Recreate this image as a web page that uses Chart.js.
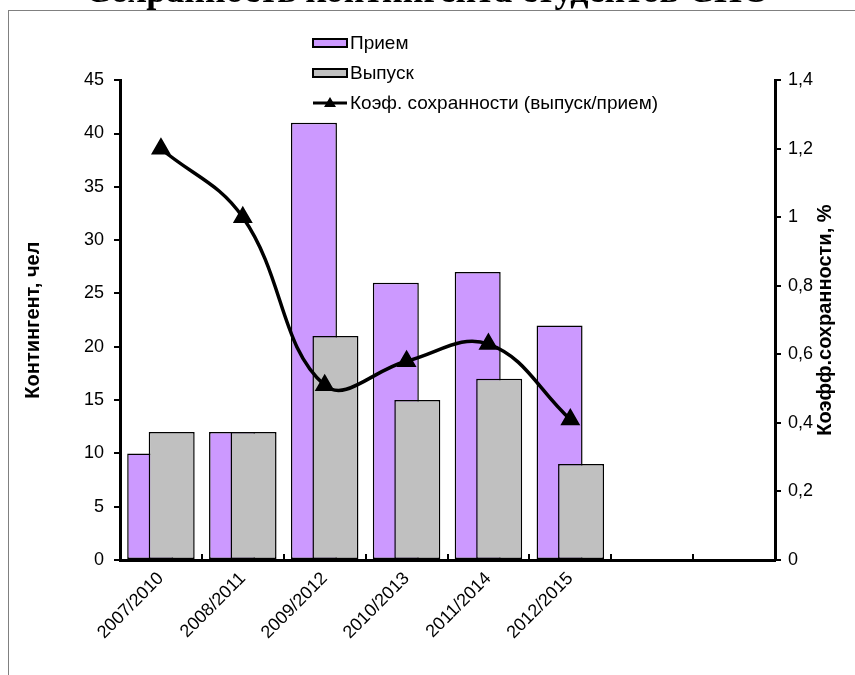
<!DOCTYPE html>
<html lang="ru">
<head>
<meta charset="utf-8">
<title>Сохранность контингента студентов СПО</title>
<script src="https://cdn.jsdelivr.net/npm/chart.js@4/dist/chart.umd.min.js"></script>
<style>
  html, body { margin: 0; padding: 0; background: #fff; }
  #page { position: relative; width: 855px; height: 675px; overflow: hidden; }
  #frame { position: absolute; left: 8px; top: 10px; width: 900px; height: 700px;
           border-top: 1px solid #808080; border-left: 1px solid #808080; }
  #wrap { position: absolute; left: 0; top: -29px; width: 855px; height: 704px; }
</style>
</head>
<body>
<div id="page">
  <div id="frame"></div>
  <div id="wrap"><canvas id="chart"></canvas></div>
</div>
<script>
const getEl = (id) => document.getElementById(id);

// данные с графика
const years = ['2007/2010', '2008/2011', '2009/2012', '2010/2013', '2011/2014', '2012/2015', '', ''];
const priem = [10, 12, 41, 26, 27, 22];
const vypusk = [12, 12, 21, 15, 17, 9];
const koef = [1.2, 1.0, 0.51, 0.58, 0.63, 0.41];
const leftTicks = { min: 0, max: 45, step: 5 };
const rightTicks = { min: 0, max: 1.4, step: 0.2 };

const chartTitle = 'Сохранность контингента студентов СПО';
const leftTitle = 'Контингент, чел';
const rightTitle = 'Коэфф.сохранности, %';

const FONT = "'Liberation Sans', Arial, sans-serif";
Chart.defaults.font.family = FONT;
Chart.defaults.color = '#000';

const fmtComma = (v) => String(Number(v.toFixed(1))).replace('.', ',');

// серые столбцы "Выпуск" должны лежать поверх сиреневых "Прием"
const barOrder = {
    id: 'barOrder',
    beforeDatasetDraw(chart, args) {
        if (args.index === 0) return false;
        if (args.index === 1) chart.getDatasetMeta(0).controller.draw();
    }
};

// легенда столбиком, как в Excel
const legendColumn = {
    id: 'legendColumn',
    afterDraw(chart) {
        const ctx = chart.ctx;
        const x = 313, w = 34;
        ctx.save();
        chart.data.datasets.forEach((ds, i) => {
            const y = 72 + i * 30;
            if (ds.type === 'line') {
                ctx.strokeStyle = ds.borderColor;
                ctx.lineWidth = 3;
                ctx.beginPath();
                ctx.moveTo(x, y);
                ctx.lineTo(x + w, y);
                ctx.stroke();
                ctx.fillStyle = ds.pointBackgroundColor;
                ctx.beginPath();
                ctx.moveTo(x + w / 2, y - 6);
                ctx.lineTo(x + w / 2 + 6, y + 4);
                ctx.lineTo(x + w / 2 - 6, y + 4);
                ctx.closePath();
                ctx.fill();
            } else {
                ctx.fillStyle = ds.backgroundColor;
                ctx.strokeStyle = '#000';
                ctx.lineWidth = 2;
                ctx.fillRect(x, y - 4, w, 8);
                ctx.strokeRect(x, y - 4, w, 8);
            }
            ctx.fillStyle = '#000';
            ctx.font = '19px ' + FONT;
            ctx.textBaseline = 'middle';
            ctx.textAlign = 'left';
            ctx.fillText(ds.label, x + w + 3, y + 1);
        });
        ctx.restore();
    }
};

// подпись правой оси читается снизу вверх
const rightAxisTitle = {
    id: 'rightAxisTitle',
    afterDraw(chart) {
        const ctx = chart.ctx;
        const area = chart.chartArea;
        ctx.save();
        ctx.translate(area.right + 50, (area.top + area.bottom) / 2);
        ctx.rotate(-Math.PI / 2);
        ctx.font = 'bold 20px ' + FONT;
        ctx.fillStyle = '#000';
        ctx.textAlign = 'center';
        ctx.textBaseline = 'middle';
        ctx.fillText(rightTitle, 0, 0);
        ctx.restore();
    }
};

new Chart(getEl('chart'), {
    type: 'bar',
    data: {
        labels: years,
        datasets: [
            {
                label: 'Прием',
                data: priem,
                backgroundColor: '#CC99FF',
                borderColor: '#000',
                borderWidth: 1.5,
                borderSkipped: false,
                categoryPercentage: 0.525,
                barPercentage: 2.14,
                yAxisID: 'y'
            },
            {
                label: 'Выпуск',
                data: vypusk,
                backgroundColor: '#C0C0C0',
                borderColor: '#000',
                borderWidth: 1.5,
                borderSkipped: false,
                categoryPercentage: 0.525,
                barPercentage: 2.14,
                yAxisID: 'y'
            },
            {
                type: 'line',
                label: 'Коэф. сохранности (выпуск/прием)',
                data: koef,
                yAxisID: 'y1',
                order: -1,
                borderColor: '#000',
                borderWidth: 3.5,
                tension: 0.4,
                fill: false,
                pointStyle: 'triangle',
                pointRadius: 8,
                pointBackgroundColor: '#000',
                pointBorderColor: '#000'
            }
        ]
    },
    options: {
        responsive: true,
        maintainAspectRatio: false,
        animation: false,
        layout: { padding: 0 },
        plugins: {
            legend: { display: false },
            tooltip: { enabled: false },
            title: {
                display: true,
                text: chartTitle,
                color: '#000',
                font: { family: "'Liberation Serif', 'Times New Roman', serif", size: 36, weight: 'bold' },
                padding: { top: 0, bottom: 66 }
            }
        },
        scales: {
            x: {
                offset: true,
                grid: { display: true, drawOnChartArea: false, offset: true, color: '#000', lineWidth: 2, tickLength: -6 },
                border: { display: true, color: '#000', width: 3 },
                ticks: { autoSkip: false, minRotation: 45, maxRotation: 45, padding: 14, font: { size: 18 } },
                afterFit: (s) => { s.height = 115; }
            },
            y: {
                position: 'left',
                min: leftTicks.min,
                max: leftTicks.max,
                grid: { drawOnChartArea: false, color: '#000', lineWidth: 2, tickLength: 6 },
                border: { display: true, color: '#000', width: 3 },
                ticks: { stepSize: leftTicks.step, padding: 10, font: { size: 18 } },
                title: { display: true, text: leftTitle, font: { size: 20, weight: 'bold' }, padding: { top: 21 } },
                afterFit: (s) => { s.width = 120; }
            },
            y1: {
                position: 'right',
                min: rightTicks.min,
                max: rightTicks.max,
                grid: { drawOnChartArea: false, color: '#000', lineWidth: 2, tickLength: 6 },
                border: { display: true, color: '#000', width: 3 },
                ticks: { stepSize: rightTicks.step, padding: 7, font: { size: 18 }, callback: (v) => fmtComma(v) },
                afterFit: (s) => { s.width = 80; }
            }
        }
    },
    plugins: [barOrder, legendColumn, rightAxisTitle]
});
</script>
</body>
</html>
